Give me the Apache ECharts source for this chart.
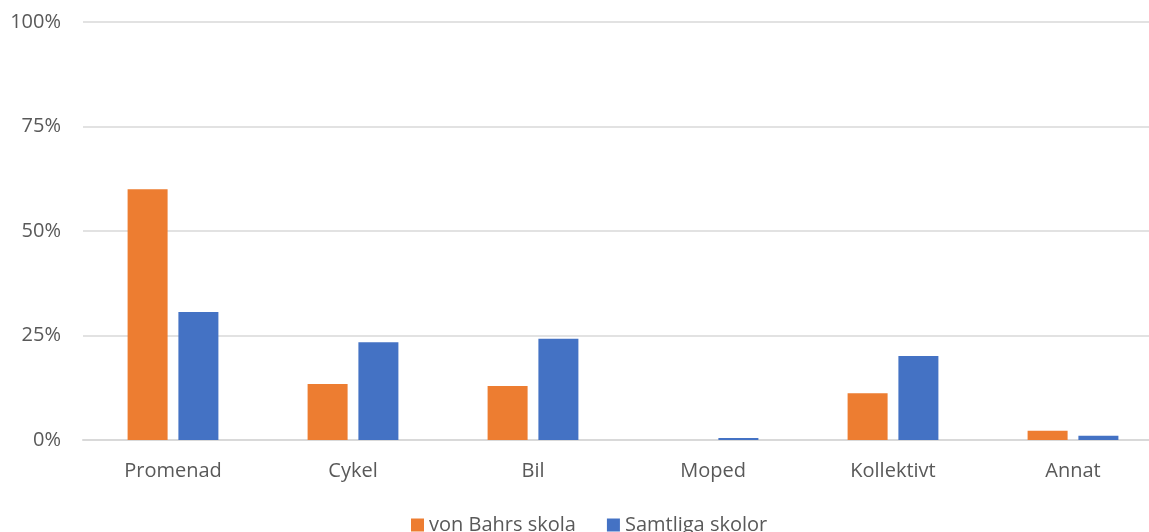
<!DOCTYPE html>
<html><head><meta charset="utf-8">
<script src="https://cdn.jsdelivr.net/npm/echarts@6/dist/echarts.min.js"></script>
<style>html,body{margin:0;padding:0;background:#fff;overflow:hidden}#c{width:1163px;height:532px}</style>
</head><body><div id="c"></div>
<script>
const categories = ['Promenad','Cykel','Bil','Moped','Kollektivt','Annat'];
const seriesNames = ['von Bahrs skola','Samtliga skolor'];
const vonBahrs = [60.0, 13.4, 12.9, 0, 11.2, 2.2];
const samtliga = [30.6, 23.4, 24.2, 0.5, 20.1, 1.0];
const chart = echarts.init(document.getElementById('c'));
const font = "'Open Sans', 'Liberation Sans', sans-serif";
chart.setOption({
  animation:false,
  grid:{left:83,right:0,top:22,bottom:92},
  legend:{bottom:-8,left:406,itemWidth:13,itemHeight:13,itemGap:31,icon:'rect',
    textStyle:{color:'#595959',fontSize:20,fontFamily:font}},
  xAxis:{type:'category',data:categories,
    axisLine:{lineStyle:{color:'#d9d9d9',width:2}},axisTick:{show:false},
    axisLabel:{color:'#595959',fontSize:20,fontFamily:font,margin:21}},
  yAxis:{type:'value',min:0,max:100,interval:25,
    axisLabel:{formatter:'{value}%',color:'#595959',fontSize:20,fontFamily:font,margin:22},
    splitLine:{lineStyle:{color:'#d9d9d9',width:1.5}},axisLine:{show:false},axisTick:{show:false}},
  series:[
    {name:seriesNames[0],type:'bar',data:vonBahrs,barWidth:40,barGap:'27%',itemStyle:{color:'#ED7D31'}},
    {name:seriesNames[1],type:'bar',data:samtliga,barWidth:40,barGap:'27%',itemStyle:{color:'#4472C4'}}
  ]
});
</script></body></html>
